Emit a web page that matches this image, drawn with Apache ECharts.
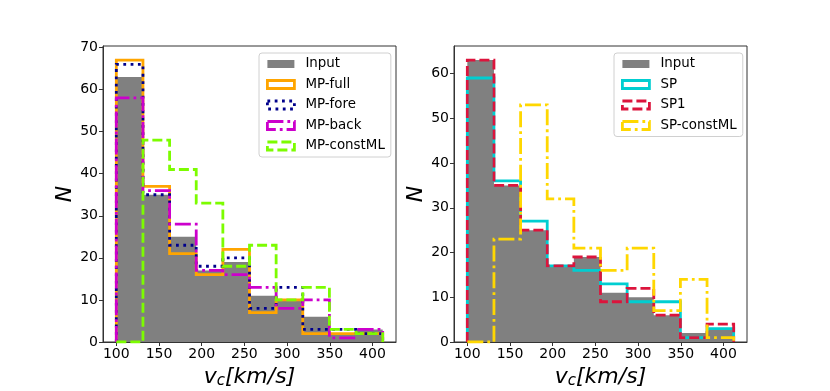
<!DOCTYPE html>
<html>
<head>
<meta charset="utf-8">
<script src="https://cdn.jsdelivr.net/npm/echarts@6/dist/echarts.min.js"></script>
<style>
  html, body { margin: 0; padding: 0; background: #fff; }
  #chart { width: 830px; height: 391px; }
</style>
</head>
<body>
<div id="chart"></div>
<script>
// bin edges of the velocity histograms (km/s)
const binEdges = [100, 131.2, 162.4, 193.6, 224.8, 256, 287.2, 318.4, 349.6, 380.8, 412];
const xTicks = [100, 150, 200, 250, 300, 350, 400];
const yTicksLeft = [0, 10, 20, 30, 40, 50, 60, 70];
const yTicksRight = [0, 10, 20, 30, 40, 50, 60];

// counts per bin
const input      = [63, 35, 25, 17, 19, 11, 10, 6, 2, 3];
const mpFull     = [67, 37, 21, 16, 22, 7, 10, 2, 2, 2];
const mpFore     = [66, 35, 23, 18, 20, 8, 13, 3, 3, 2];
const mpBack     = [58, 36, 28, 17, 16, 13, 8, 10, 1, 3];
const mpConstML  = [0, 48, 41, 33, 18, 23, 10, 13, 3, 2];
const sp         = [59, 36, 27, 17, 16, 13, 9, 9, 1, 3];
const sp1        = [63, 35, 25, 17, 19, 9, 12, 6, 1, 4];
const spConstML  = [0, 23, 53, 32, 21, 16, 21, 7, 14, 1];

// outline of a step histogram
function steps(counts) {
    const pts = [[binEdges[0], 0]];
    counts.forEach(function (c, i) {
        pts.push([binEdges[i], c]);
        pts.push([binEdges[i + 1], c]);
    });
    pts.push([binEdges[binEdges.length - 1], 0]);
    return pts;
}

const chart = echarts.init(document.getElementById('chart'), null, { renderer: 'canvas' });

const font = 'DejaVu Sans';
const LW = 2.8;
const styles = {
    'MP-full':    { color: '#ffa500', type: 'solid' },
    'MP-fore':    { color: '#00008b', type: [2.8, 4.5] },
    'MP-back':    { color: '#cc00cc', type: [16, 4, 2.8, 4] },
    'MP-constML': { color: '#7cfc00', type: [10, 4] },
    'SP':         { color: '#00ced1', type: 'solid' },
    'SP1':        { color: '#dc143c', type: [10, 4] },
    'SP-constML': { color: '#ffd700', type: [16, 4, 2.8, 4] }
};

function stepSeries(name, counts, idx) {
    const s = styles[name];
    return {
        name: name,
        type: 'line',
        xAxisIndex: idx,
        yAxisIndex: idx,
        data: steps(counts),
        symbol: 'none',
        animation: false,
        lineStyle: { color: s.color, width: LW, type: s.type, cap: 'butt', join: 'miter' },
        itemStyle: { color: s.color }
    };
}

function inputSeries(idx) {
    return {
        name: 'Input',
        type: 'line',
        xAxisIndex: idx,
        yAxisIndex: idx,
        data: steps(input),
        symbol: 'none',
        animation: false,
        lineStyle: { width: 0, color: '#808080' },
        areaStyle: { color: '#808080', opacity: 1 },
        itemStyle: { color: '#808080' }
    };
}

function legendItem(name) {
    if (name === 'Input') {
        return { name: name, icon: 'rect', itemStyle: { color: '#808080', borderWidth: 0 } };
    }
    const s = styles[name];
    return {
        name: name,
        icon: 'rect',
        itemStyle: { color: 'rgba(0,0,0,0)', borderColor: s.color, borderWidth: LW, borderType: s.type }
    };
}

function legendBox(left, names) {
    return {
        left: left,
        top: 53,
        orient: 'vertical',
        data: names.map(legendItem),
        itemWidth: 27,
        itemHeight: 8,
        itemGap: 6.5,
        padding: [4, 6, 4, 7],
        borderColor: '#d0d0d0',
        borderWidth: 1,
        borderRadius: 3,
        backgroundColor: '#fff',
        selectedMode: false,
        textStyle: { fontFamily: font, fontSize: 13.4, color: '#000', lineHeight: 14, padding: [0, 0, 0, 6] }
    };
}

function xAxis(idx) {
    return {
        type: 'value',
        gridIndex: idx,
        min: 84.4,
        max: 427.6,
        splitLine: { show: false },
        axisLine: { show: true, onZero: false, lineStyle: { color: '#333', width: 1 } },
        axisTick: { show: true, customValues: xTicks, length: 4, lineStyle: { color: '#333' } },
        axisLabel: { customValues: xTicks, fontFamily: font, fontSize: 14, color: '#000', margin: 5 },
        name: '{v|v}{c|c}{t|[km/s]}',
        nameLocation: 'middle',
        nameGap: 24,
        nameTextStyle: {
            verticalAlign: 'top',
            rich: {
                v: { fontFamily: font, fontStyle: 'italic', fontSize: 22, color: '#000' },
                c: { fontFamily: font, fontStyle: 'italic', fontSize: 15, color: '#000', padding: [8, 0, 0, 0] },
                t: { fontFamily: font, fontStyle: 'italic', fontSize: 22, color: '#000' }
            }
        }
    };
}

function yAxis(idx, max, ticks) {
    return {
        type: 'value',
        gridIndex: idx,
        min: 0,
        max: max,
        splitLine: { show: false },
        axisLine: { show: true, lineStyle: { color: '#333', width: 1 } },
        axisTick: { show: true, customValues: ticks, length: 4, lineStyle: { color: '#333' } },
        axisLabel: { customValues: ticks, fontFamily: font, fontSize: 14, color: '#000', margin: 5 },
        name: 'N',
        nameLocation: 'middle',
        nameGap: 23,
        nameTextStyle: { fontFamily: font, fontStyle: 'italic', fontSize: 22, color: '#000' }
    };
}

const gridBase = { top: 46, width: 293, height: 296, show: true, borderColor: '#333', borderWidth: 1,
    backgroundColor: 'transparent', containLabel: false, outerBoundsMode: 'none' };

chart.setOption({
    animation: false,
    backgroundColor: '#fff',
    grid: [
        Object.assign({ left: 103 }, gridBase),
        Object.assign({ left: 454 }, gridBase)
    ],
    legend: [
        legendBox(259, ['Input', 'MP-full', 'MP-fore', 'MP-back', 'MP-constML']),
        legendBox(614, ['Input', 'SP', 'SP1', 'SP-constML'])
    ],
    xAxis: [xAxis(0), xAxis(1)],
    yAxis: [yAxis(0, 70.35, yTicksLeft), yAxis(1, 66.15, yTicksRight)],
    series: [
        inputSeries(0),
        stepSeries('MP-full', mpFull, 0),
        stepSeries('MP-fore', mpFore, 0),
        stepSeries('MP-back', mpBack, 0),
        stepSeries('MP-constML', mpConstML, 0),
        inputSeries(1),
        stepSeries('SP', sp, 1),
        stepSeries('SP1', sp1, 1),
        stepSeries('SP-constML', spConstML, 1)
    ]
});
</script>
</body>
</html>
